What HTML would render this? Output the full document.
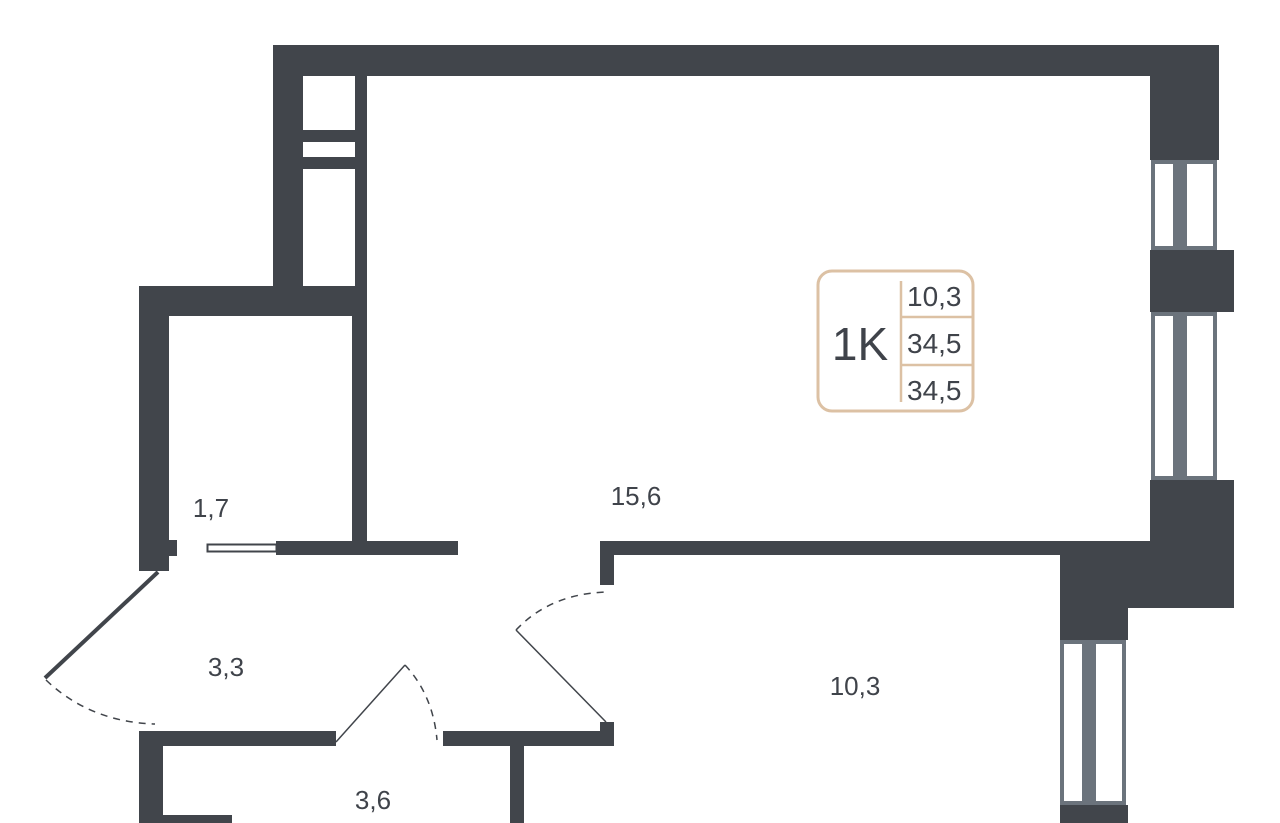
<!DOCTYPE html>
<html><head><meta charset="utf-8"><style>
html,body{margin:0;padding:0;background:#fff;}
svg{display:block;}
text{font-family:"Liberation Sans",sans-serif;fill:#3f434a;}
</style></head><body>
<svg width="1280" height="823" viewBox="0 0 1280 823" xmlns="http://www.w3.org/2000/svg">
<g fill="#41454b">
<rect x="273" y="45" width="946" height="31"/>
<rect x="273" y="45" width="30" height="271"/>
<rect x="355" y="45" width="12" height="500"/>
<rect x="352" y="316" width="15" height="229"/>
<rect x="303" y="130" width="52" height="12"/>
<rect x="303" y="157" width="52" height="12"/>
<rect x="139" y="286" width="228" height="30"/>
<rect x="139" y="286" width="30" height="285"/>
<rect x="169" y="540" width="8" height="16"/>
<rect x="276" y="541" width="182" height="14"/>
<rect x="1150" y="45" width="69" height="115"/>
<rect x="1150" y="250" width="84" height="62"/>
<rect x="1150" y="480" width="84" height="128"/>
<rect x="1060" y="555" width="174" height="53"/>
<rect x="1060" y="555" width="68" height="85"/>
<rect x="1060" y="805" width="68" height="18"/>
<rect x="600" y="541" width="560" height="14"/>
<rect x="600" y="541" width="14" height="44"/>
<rect x="139" y="731" width="197" height="15"/>
<rect x="139" y="731" width="24" height="92"/>
<rect x="163" y="815" width="69" height="8"/>
<rect x="443" y="731" width="171" height="15"/>
<rect x="600" y="722" width="14" height="24"/>
<rect x="510" y="746" width="14" height="77"/>
</g>
<g fill="none" stroke="#6b737c" stroke-width="4">
<rect x="1153" y="162" width="62" height="86"/>
<rect x="1153" y="314" width="62" height="164"/>
<rect x="1062" y="642" width="62" height="161"/>
</g>
<g fill="#6b737c">
<rect x="1173" y="160" width="14" height="90"/>
<rect x="1173" y="312" width="14" height="168"/>
<rect x="1082" y="640" width="14" height="165"/>
</g>
<rect x="207.5" y="544.5" width="69" height="7" fill="#fff" stroke="#41454b" stroke-width="2"/>
<line x1="158" y1="572" x2="45" y2="678" stroke="#41454b" stroke-width="4"/>
<path d="M46 680 Q90 722 155 724" fill="none" stroke="#41454b" stroke-width="1.5" stroke-dasharray="7,6"/>
<line x1="336" y1="742" x2="405" y2="665" stroke="#41454b" stroke-width="1.5"/>
<path d="M405 665 Q433 695 437 740" fill="none" stroke="#41454b" stroke-width="1.5" stroke-dasharray="7,6"/>
<line x1="606" y1="722" x2="516" y2="630" stroke="#41454b" stroke-width="1.5"/>
<path d="M516 630 Q550 594 606 592" fill="none" stroke="#41454b" stroke-width="1.5" stroke-dasharray="7,6"/>
<g font-size="26">
<text x="211" y="517" text-anchor="middle">1,7</text>
<text x="636" y="505" text-anchor="middle">15,6</text>
<text x="226" y="676" text-anchor="middle">3,3</text>
<text x="855" y="695" text-anchor="middle">10,3</text>
<text x="373" y="809" text-anchor="middle">3,6</text>
</g>
<rect x="818" y="271" width="155" height="140" rx="14" fill="#fff" stroke="#dcc1a4" stroke-width="3"/>
<line x1="901" y1="281" x2="901" y2="402" stroke="#dcc1a4" stroke-width="2.5"/>
<line x1="901" y1="317" x2="972" y2="317" stroke="#dcc1a4" stroke-width="2.5"/>
<line x1="901" y1="365" x2="972" y2="365" stroke="#dcc1a4" stroke-width="2.5"/>
<text x="860" y="360" font-size="46" text-anchor="middle">1K</text>
<g font-size="28">
<text x="907" y="306">10,3</text>
<text x="907" y="353">34,5</text>
<text x="907" y="400">34,5</text>
</g>
</svg>
</body></html>
